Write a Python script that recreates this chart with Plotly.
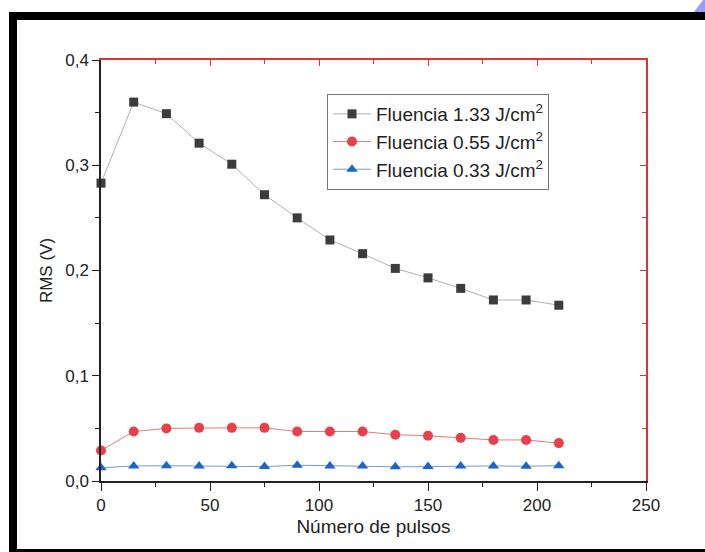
import plotly.graph_objects as go

pulsos = [0, 15, 30, 45, 60, 75, 90, 105, 120, 135, 150, 165, 180, 195, 210]
rms_133 = [0.283, 0.360, 0.349, 0.321, 0.301, 0.272, 0.250, 0.229, 0.216, 0.202,
           0.193, 0.183, 0.172, 0.172, 0.167]
rms_055 = [0.029, 0.047, 0.050, 0.0505, 0.0505, 0.0505, 0.047, 0.047, 0.047, 0.044,
           0.043, 0.041, 0.039, 0.039, 0.036]
rms_033 = [0.0125, 0.0143, 0.0145, 0.0143, 0.0145, 0.0137, 0.0150, 0.0143, 0.0143,
           0.0135, 0.0137, 0.0143, 0.0143, 0.0140, 0.0145]
names = ["Fluencia 1.33 J/cm<sup>2</sup>", "Fluencia 0.55 J/cm<sup>2</sup>",
         "Fluencia 0.33 J/cm<sup>2</sup>"]
x_ticks = [0, 50, 100, 150, 200, 250]
y_ticks = [0.0, 0.1, 0.2, 0.3, 0.4]

W, H = 705, 552
L, R, T, B = 101, 646, 60, 481

def px(x):
    return (x - L) / (R - L)

def py(y):
    return (B - y) / (B - T)

fig = go.Figure()
fig.add_trace(go.Scatter(x=pulsos, y=rms_133, name=names[0], mode="lines+markers",
                         line=dict(color="#b0b0b0", width=1),
                         marker=dict(symbol="square", size=9, color="#3c3c3c"),
                         cliponaxis=False))
fig.add_trace(go.Scatter(x=pulsos, y=rms_055, name=names[1], mode="lines+markers",
                         line=dict(color="#e27a7a", width=1),
                         marker=dict(symbol="circle", size=10, color="#e8404a"),
                         cliponaxis=False))
fig.add_trace(go.Scatter(x=pulsos, y=rms_033, name=names[2], mode="lines+markers",
                         line=dict(color="#6f9fd2", width=1),
                         marker=dict(symbol="triangle-up", size=10, color="#1f63c6"),
                         cliponaxis=False))
# invisible trace to activate the mirrored red axes
fig.add_trace(go.Scatter(x=[None], y=[None], xaxis="x2", yaxis="y2", showlegend=False,
                         hoverinfo="skip"))

font_fam = "Liberation Sans, Arial, sans-serif"
fig.update_layout(
    width=W, height=H,
    margin=dict(l=L, r=W - R, t=T, b=H - B),
    paper_bgcolor="white", plot_bgcolor="white",
    separators=",.",
    font=dict(family=font_fam, size=17, color="#222"),
    xaxis=dict(range=[0, 250], tickvals=x_ticks, ticks="outside", ticklen=8, tickwidth=1.2,
               tickcolor="#222", showline=True, linecolor="#222", linewidth=1.5,
               showgrid=False, zeroline=False,
               minor=dict(dtick=25, ticks="outside", ticklen=4, tickcolor="#222"),
               tickfont=dict(size=17),
               title=dict(text="Número de pulsos", font=dict(size=19), standoff=6)),
    yaxis=dict(range=[0, 0.4], tickvals=y_ticks, tickformat=".1f", ticks="outside",
               ticklen=7, tickwidth=1.2, tickcolor="#222", showline=True,
               linecolor="#222", linewidth=1.5, showgrid=False, zeroline=False,
               minor=dict(dtick=0.05, ticks="outside", ticklen=4, tickcolor="#222"),
               tickfont=dict(size=17),
               title=dict(text="RMS (V)", font=dict(size=17), standoff=8)),
    xaxis2=dict(overlaying="x", side="top", anchor="y", range=[0, 250], tickvals=x_ticks,
                ticks="inside", ticklen=6, tickcolor="#d33", showticklabels=False,
                showline=True, linecolor="#d33", linewidth=1.5, showgrid=False,
                zeroline=False, minor=dict(dtick=25, ticks="inside", ticklen=4,
                                           tickcolor="#d33")),
    yaxis2=dict(overlaying="y", side="right", anchor="x", range=[0, 0.4], tickvals=y_ticks,
                ticks="inside", ticklen=6, tickcolor="#d33", showticklabels=False,
                showline=True, linecolor="#d33", linewidth=1.5, showgrid=False,
                zeroline=False, minor=dict(dtick=0.05, ticks="inside", ticklen=4,
                                           tickcolor="#d33")),
    legend=dict(x=px(327), y=py(94), xanchor="left", yanchor="top",
                bgcolor="white", bordercolor="#777", borderwidth=1,
                font=dict(size=19, color="#222"), tracegroupgap=0, itemwidth=38),
    shapes=[
        dict(type="rect", xref="paper", yref="paper",
             x0=px(13), y0=py(16), x1=px(715), y1=py(553),
             line=dict(color="black", width=8), fillcolor="rgba(0,0,0,0)", layer="above"),
        dict(type="path", xref="paper", yref="paper",
             path=f"M {px(694)} {py(12)} L {px(706)} {py(12)} L {px(706)} {py(-4)} Z",
             line=dict(width=0), fillcolor="#9a9cf5", layer="above"),
    ],
    showlegend=True,
)

fig.write_html("out.html")
